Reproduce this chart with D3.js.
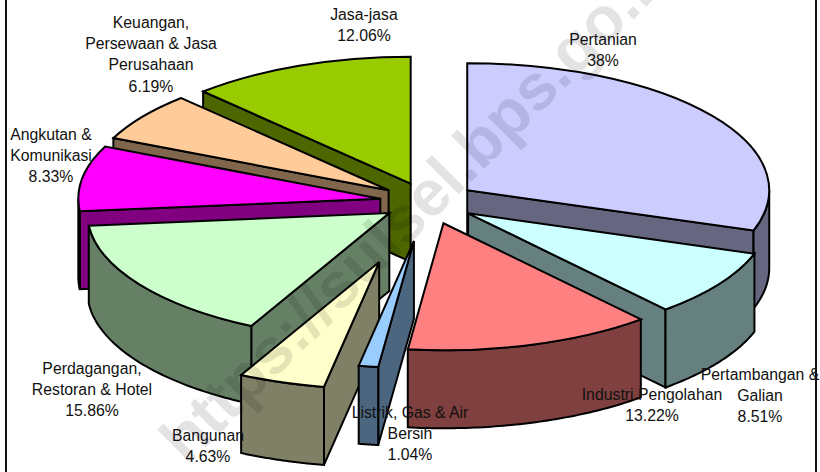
<!DOCTYPE html>
<html>
<head>
<meta charset="utf-8">
<script src="https://cdn.jsdelivr.net/npm/d3@7"></script>
<style>
  html, body { margin: 0; padding: 0; background: #fff; overflow: hidden; }
  text { font-family: "Liberation Sans", Arial, sans-serif; }
</style>
</head>
<body>
<script>
// sector names and the values the slices are drawn with
const sectors = ["Pertanian", "Pertambangan", "Industri", "Listrik", "Bangunan", "Perdagangan", "Angkutan", "Keuangan", "Jasa"];
const shares = [30.15, 8.51, 13.22, 1.04, 4.63, 15.86, 8.33, 6.19, 12.06];
// printed labels, Pertanian really says 38% in the source although its slice is about 30
const labelLines = [
    ["Pertanian", "38%"],
    ["Pertambangan &", "Galian", "8.51%"],
    ["Industri Pengolahan", "13.22%"],
    ["Listrik, Gas & Air", "Bersih", "1.04%"],
    ["Bangunan", "4.63%"],
    ["Perdagangan,", "Restoran & Hotel", "15.86%"],
    ["Angkutan &", "Komunikasi", "8.33%"],
    ["Keuangan,", "Persewaan & Jasa", "Perusahaan", "6.19%"],
    ["Jasa-jasa", "12.06%"]
];
const explode = [0.16, 0.16, 0.175, 0.31, 0.5, 0.155, 0.16, 0.16, 0.155];
const fills = ["#CCCCFF", "#CCFFFF", "#FF8080", "#99CCFF", "#FFFFCC", "#CCFFCC", "#FF00FF", "#FFCC99", "#99CC00"];

const width = 820;
const height = 472;
const cx = 428, cy = 202;   // pie centre before exploding
const rx = 302, ry = 127;
const depth = 78;

// label centre x and first baseline
const labelPos = [[603, 45], [760, 380], [652, 400], [410, 418], [208, 441], [92, 374], [51, 140], [151, 28], [364, 20]];
// back to front
const drawOrder = [8, 7, 6, 0, 5, 1, 4, 2, 3];

const svg = d3.select("body").append("svg")
    .attr("width", width)
    .attr("height", height)
    .style("display", "block");

const xScale = d3.scaleLinear().domain([-1, 1]).range([-rx, rx]);
const yScale = d3.scaleLinear().domain([-1, 1]).range([-ry, ry]);

const pie = d3.pie().sort(null).value(d => d);
const slices = pie(shares);
const arc = d3.arc().innerRadius(0).outerRadius(1);
const line = d3.line();

function darken(c) {
    const rgb = d3.rgb(c);
    return d3.rgb(rgb.r * 0.5, rgb.g * 0.5, rgb.b * 0.5).formatHex();
}

function onRim(a, ox, oy) {
    return [ox + xScale(Math.sin(a)), oy + yScale(-Math.cos(a))];
}

function drawWall(g, pts, fill) {
    g.append("path")
        .attr("d", line(pts) + "Z")
        .attr("fill", fill)
        .attr("stroke", "black")
        .attr("stroke-width", 2);
}

drawOrder.forEach(i => {
    const d = slices[i];
    const mid = (d.startAngle + d.endAngle) / 2;
    const ox = cx + explode[i] * xScale(Math.sin(mid));
    const oy = cy + explode[i] * yScale(-Math.cos(mid));
    const wall = darken(fills[i]);
    const g = svg.append("g").attr("class", "slice");

    // flat cut faces, skip the ones turned away from the viewer
    const cuts = [];
    if (Math.sin(d.startAngle) < -1e-6) cuts.push(d.startAngle);
    if (Math.sin(d.endAngle) > 1e-6) cuts.push(d.endAngle);
    cuts.forEach(a => {
        const p = onRim(a, ox, oy);
        drawWall(g, [[ox, oy], p, [p[0], p[1] + depth], [ox, oy + depth]], wall);
    });

    // curved outer face, only the part turned to the viewer
    const a0 = Math.max(d.startAngle, Math.PI / 2);
    const a1 = Math.min(d.endAngle, Math.PI * 1.5);
    if (a1 > a0) {
        const angles = d3.range(0, 61).map(k => a0 + (a1 - a0) * k / 60);
        const topEdge = angles.map(a => onRim(a, ox, oy));
        const bottomEdge = topEdge.map(p => [p[0], p[1] + depth]).reverse();
        drawWall(g, topEdge.concat(bottomEdge), wall);
    }

    // top face
    g.append("path")
        .attr("d", arc(d))
        .attr("transform", `translate(${ox},${oy}) scale(${rx},${ry})`)
        .attr("fill", fills[i])
        .attr("stroke", "black")
        .attr("stroke-width", 2)
        .attr("vector-effect", "non-scaling-stroke");
});

// labels
labelLines.forEach((lines, i) => {
    const t = svg.append("text")
        .attr("text-anchor", "middle")
        .attr("font-size", 15.8)
        .attr("fill", "#111");
    lines.forEach((s, k) => {
        t.append("tspan")
            .attr("x", labelPos[i][0])
            .attr("y", labelPos[i][1] + k * 21.2)
            .text(s);
    });
});

// side rules of the frame
[6, 816].forEach(x => {
    svg.append("line")
        .attr("x1", x).attr("x2", x)
        .attr("y1", 0).attr("y2", height)
        .attr("stroke", "#111")
        .attr("stroke-width", 2);
});

// watermark
svg.append("text")
    .attr("transform", "translate(187,466) rotate(-45)")
    .attr("font-size", 64.5)
    .attr("font-weight", "bold")
    .attr("fill", "black")
    .attr("fill-opacity", 0.11)
    .text("https://sulsel.bps.go.id");
</script>
</body>
</html>
